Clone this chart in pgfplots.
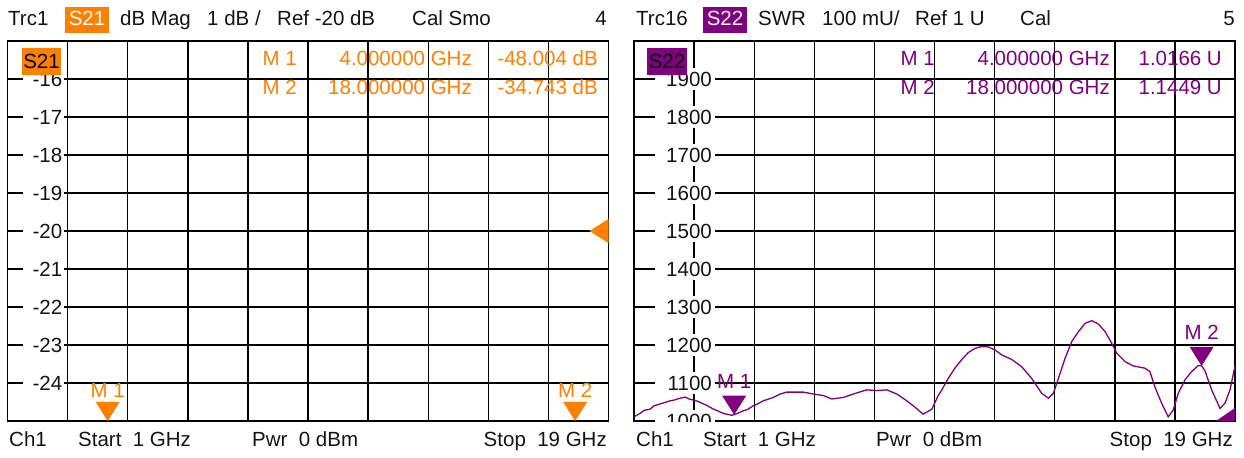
\documentclass[border=0pt]{standalone}
\usepackage{pgfplots}
\pgfplotsset{compat=1.18}
\usepackage{fontspec}
\setmainfont{Liberation Sans}
\definecolor{rsorange}{RGB}{255,128,0}
\definecolor{rspurple}{RGB}{128,0,128}
\definecolor{rstext}{RGB}{20,20,20}
\newcommand{\fs}{\fontsize{20.5bp}{24bp}\selectfont}
\pgfdeclareplotmark{dtri}{\pgfpathmoveto{\pgfpoint{0bp}{0bp}}\pgfpathlineto{\pgfpoint{-12bp}{19bp}}\pgfpathlineto{\pgfpoint{12bp}{19bp}}\pgfpathclose\pgfusepathqfill}
\pgfdeclareplotmark{ltri}{\pgfpathmoveto{\pgfpoint{-19bp}{0bp}}\pgfpathlineto{\pgfpoint{0bp}{12bp}}\pgfpathlineto{\pgfpoint{0bp}{-12bp}}\pgfpathclose\pgfusepathqfill}
\pgfdeclareplotmark{ltrihalf}{\pgfpathmoveto{\pgfpoint{-19bp}{0bp}}\pgfpathlineto{\pgfpoint{0bp}{13bp}}\pgfpathlineto{\pgfpoint{0bp}{0bp}}\pgfpathclose\pgfusepathqfill}
\pgfplotsset{
  rsaxis/.style={
    width=601bp, height=380bp, scale only axis,
    xmin=1, xmax=19,
    xtick={2.8,4.6,6.4,8.2,10,11.8,13.6,15.4,17.2},
    xticklabels={},
    major tick length=0pt,
    grid=major,
    grid style={line width=1.4bp, black},
    axis line style={line width=1.6bp, black},
    every tick label/.append style={font=\fs, text=rstext},
    yticklabel style={anchor=east, fill=white, inner ysep=4bp, align=right},
  },
}
\begin{document}
\begin{tikzpicture}[x=1bp,y=1bp]
\useasboundingbox (0,0) rectangle (1244,458);
% ---------- left panel ----------
\begin{axis}[rsaxis, at={(7.5bp,37bp)}, anchor=south west,
  ymin=-25, ymax=-15,
  ytick={-24,-23,-22,-21,-20,-19,-18,-17,-16},
  yticklabels={-24,-23,-22,-21,-20,-19,-18,-17,-16},
  yticklabel style={text width=37bp, inner xsep=2bp, xshift=57bp}]
\addplot[only marks, mark=dtri, color=rsorange,
  nodes near coords, point meta=explicit symbolic,
  every node near coord/.style={anchor=base, yshift=23bp, font=\fs, text=rsorange, inner sep=0pt}]
  coordinates {(4,-25) [M 1] (18,-25) [M 2]};
\addplot[only marks, mark=ltri, color=rsorange] coordinates {(19,-20)};
\end{axis}
% ---------- right panel ----------
\begin{axis}[rsaxis, at={(634bp,37bp)}, anchor=south west,
  ymin=1000, ymax=2000,
  ytick={1000,1100,1200,1300,1400,1500,1600,1700,1800,1900},
  yticklabels={1000,1100,1200,1300,1400,1500,1600,1700,1800,1900},
  yticklabel style={text width=54bp, inner xsep=3bp, xshift=81bp}]
\addplot[rspurple, line width=1.3bp] coordinates {
(1.00,1011) (1.10,1016) (1.18,1020) (1.30,1028) (1.48,1031) (1.60,1040) (1.78,1045) (1.90,1048) (2.08,1053) (2.20,1055) (2.38,1060) (2.53,1063)
(2.65,1058) (2.78,1055) (2.90,1052) (3.08,1045) (3.20,1040) (3.38,1031) (3.50,1027) (3.67,1020) (3.93,1015) (4.10,1020) (4.27,1027) (4.40,1030) (4.57,1040)
(4.70,1045) (4.87,1053) (5.17,1062) (5.35,1070) (5.57,1076) (6.07,1076) (6.37,1071) (6.67,1067) (6.92,1058)
(7.10,1060) (7.27,1062) (7.57,1071) (7.97,1082) (8.27,1080) (8.57,1082) (8.87,1071) (9.17,1053)
(9.42,1036) (9.66,1018) (9.92,1031) (10.11,1067) (10.22,1082) (10.41,1112) (10.61,1139)
(10.81,1161) (11.01,1180) (11.21,1191) (11.41,1196) (11.61,1195) (11.81,1187) (12.01,1174)
(12.31,1162) (12.61,1143) (12.91,1112) (13.21,1073) (13.41,1060) (13.56,1073) (13.71,1112)
(13.91,1165) (14.11,1209) (14.31,1235) (14.51,1257) (14.71,1264) (14.91,1255) (15.11,1235)
(15.31,1204) (15.46,1178) (15.71,1156) (15.95,1145) (16.30,1139) (16.45,1130) (16.60,1090)
(16.80,1047) (17.00,1011) (17.15,1029) (17.30,1073) (17.50,1108) (17.70,1130) (17.90,1146)
(18.00,1145) (18.10,1132) (18.30,1082) (18.55,1033) (18.70,1047) (18.85,1082) (19.00,1145)
};
\addplot[only marks, mark=dtri, color=rspurple,
  nodes near coords, point meta=explicit symbolic,
  every node near coord/.style={anchor=base, yshift=26bp, font=\fs, text=rspurple, inner sep=0pt}]
  coordinates {(4,1016.6) [M 1] (18,1144.9) [M 2]};
\addplot[only marks, mark=ltrihalf, color=rspurple] coordinates {(19,1000)};
\end{axis}
% hide lower half of the clipped 1000 label
\fill[white] (650,25) rectangle (722,35.8);
% ---------- in-panel trace boxes ----------
\fill[rsorange] (22,383) rectangle (61,410);
\node[font=\fs, text=black, anchor=base, inner sep=0pt] at (41.5,389.5) {S21};
\fill[rspurple] (647,383) rectangle (687,410);
\node[font=\fs, text=black, anchor=base, inner sep=0pt] at (667,389.5) {S22};
% ---------- readouts ----------
\begin{scope}[every node/.style={font=\fs, inner sep=0pt, text=rsorange}]
\node[anchor=base east] at (297,392) {M 1};
\node[anchor=base east] at (472,392) {4.000000 GHz};
\node[anchor=base east] at (598,392) {-48.004 dB};
\node[anchor=base east] at (297,363) {M 2};
\node[anchor=base east] at (472,363) {18.000000 GHz};
\node[anchor=base east] at (598,363) {-34.743 dB};
\end{scope}
\begin{scope}[every node/.style={font=\fs, inner sep=0pt, text=rspurple}]
\node[anchor=base east] at (935,392) {M 1};
\node[anchor=base east] at (1110,392) {4.000000 GHz};
\node[anchor=base east] at (1222,392) {1.0166 U};
\node[anchor=base east] at (935,363) {M 2};
\node[anchor=base east] at (1110,363) {18.000000 GHz};
\node[anchor=base east] at (1222,363) {1.1449 U};
\end{scope}
% ---------- header ----------
\fill[rsorange] (65,425) rectangle (109,451);
\fill[rspurple] (703,425) rectangle (747,451);
\begin{scope}[every node/.style={font=\fs, inner sep=0pt, text=rstext}]
\node[anchor=base west] at (8,432) {Trc1};
\node[anchor=base, text=white] at (87,432) {S21};
\node[anchor=base west] at (120,432) {dB Mag};
\node[anchor=base west] at (207,432) {1 dB /};
\node[anchor=base west] at (277,432) {Ref -20 dB};
\node[anchor=base west] at (412,432) {Cal Smo};
\node[anchor=base east] at (607,432) {4};
\node[anchor=base west] at (636,432) {Trc16};
\node[anchor=base, text=white] at (725,432) {S22};
\node[anchor=base west] at (758,432) {SWR};
\node[anchor=base west] at (822,432) {100 mU/};
\node[anchor=base west] at (915,432) {Ref 1 U};
\node[anchor=base west] at (1020,432) {Cal};
\node[anchor=base east] at (1235,432) {5};
% ---------- footer ----------
\node[anchor=base west] at (9,11) {Ch1};
\node[anchor=base west] at (78,11) {Start\ \ 1 GHz};
\node[anchor=base west] at (252,11) {Pwr\ \ 0 dBm};
\node[anchor=base east] at (607,11) {Stop\ \ 19 GHz};
\node[anchor=base west] at (636,11) {Ch1};
\node[anchor=base west] at (703,11) {Start\ \ 1 GHz};
\node[anchor=base west] at (876,11) {Pwr\ \ 0 dBm};
\node[anchor=base east] at (1233,11) {Stop\ \ 19 GHz};
\end{scope}
\end{tikzpicture}
\end{document}
